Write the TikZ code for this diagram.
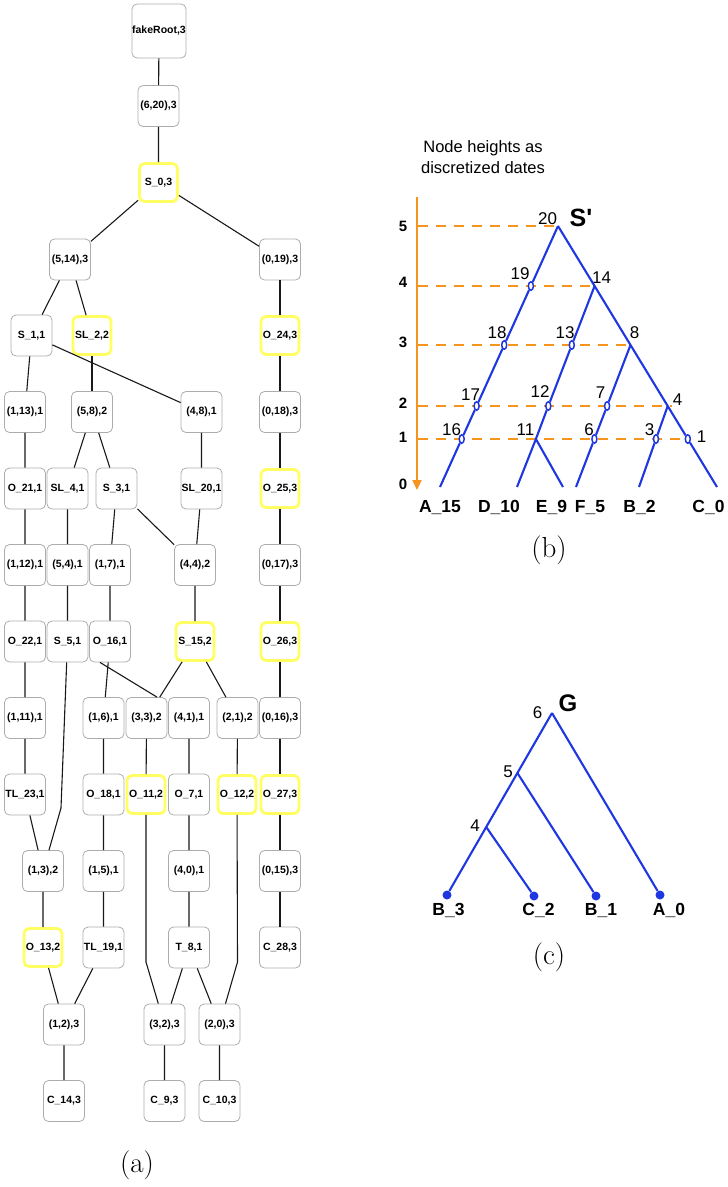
\documentclass[tikz,border=0pt]{standalone}
\usepackage{fontspec}
\usetikzlibrary{shapes.geometric, arrows.meta, backgrounds}
\newfontfamily\treefont{Liberation Sans}
\definecolor{boxgray}{RGB}{172,172,172}
\definecolor{markyellow}{RGB}{255,255,100}
\definecolor{treeblue}{RGB}{30,55,225}
\definecolor{dateorange}{RGB}{247,148,30}
\tikzstyle{state} = [rectangle, draw=boxgray, line width=0.8pt, rounded corners=5pt, minimum size=41pt, inner sep=0pt, font=\treefont\bfseries\fontsize{10.5}{12}\selectfont]
\tikzstyle{marked} = [state, draw=markyellow, line width=2.8pt, minimum size=38pt]
\tikzstyle{link} = [line width=1.1pt, draw=black!90]
\tikzstyle{branch} = [line width=2.1pt, draw=treeblue]
\tikzstyle{hole} = [ellipse, draw=treeblue, fill=white, line width=1.5pt, minimum width=5pt, minimum height=8.5pt, inner sep=0pt]
\tikzstyle{leafdot} = [circle, fill=treeblue, minimum size=9pt, inner sep=0pt]
\tikzstyle{dateline} = [draw=dateorange, line width=1.9pt, dash pattern=on 10pt off 8pt]
\tikzstyle{axis} = [draw=dateorange, line width=2.2pt, -{Triangle[length=10pt, width=9pt]}]
\tikzstyle{num} = [inner sep=0pt, font=\treefont\fontsize{17}{20}\selectfont]
\tikzstyle{grade} = [inner sep=0pt, font=\treefont\bfseries\fontsize{15}{18}\selectfont]
\tikzstyle{leaf} = [inner sep=0pt, text depth=0pt, font=\treefont\bfseries\fontsize{17.5}{20}\selectfont]
\tikzstyle{treename} = [inner sep=0pt, font=\treefont\bfseries\fontsize{25}{30}\selectfont]
\tikzstyle{note} = [inner sep=0pt, align=center, font=\treefont\fontsize{16.5}{21.5}\selectfont]
\tikzstyle{panel} = [inner sep=0pt, font=\fontsize{29}{34}\selectfont]

\begin{document}
\begin{tikzpicture}[x=1pt, y=-1pt]
			\useasboundingbox (0,0) rectangle (728,1187);

			% Nodes (a)
			\node (root) [state, minimum size=54pt] at (159,31) {fakeRoot,3};
			\node (p620) [state] at (158.5,106) {(6,20),3};
			\node (s0) [marked] at (158.5,182.5) {S\_0,3};
			\node (p514) [state] at (70,259.5) {(5,14),3};
			\node (p019) [state] at (280,259.5) {(0,19),3};
			\node (s1) [state] at (31.5,335.5) {S\_1,1};
			\node (sl2) [marked] at (92,335.5) {SL\_2,2};
			\node (o24) [marked] at (280,335.5) {O\_24,3};
			\node (p113) [state] at (25,412) {(1,13),1};
			\node (p58) [state] at (92,412) {(5,8),2};
			\node (p48) [state] at (201.5,412) {(4,8),1};
			\node (p018) [state] at (280,412) {(0,18),3};
			\node (o21) [state] at (25,488.5) {O\_21,1};
			\node (sl4) [state] at (67.5,488.5) {SL\_4,1};
			\node (s3) [state] at (116.5,488.5) {S\_3,1};
			\node (sl20) [state] at (201.5,488.5) {SL\_20,1};
			\node (o25) [marked] at (280,488.5) {O\_25,3};
			\node (p112) [state] at (25,565) {(1,12),1};
			\node (p54) [state] at (67.5,565) {(5,4),1};
			\node (p17) [state] at (110,565) {(1,7),1};
			\node (p44) [state] at (195,565) {(4,4),2};
			\node (p017) [state] at (280,565) {(0,17),3};
			\node (o22) [state] at (25,641.5) {O\_22,1};
			\node (s5) [state] at (67.5,641.5) {S\_5,1};
			\node (o16) [state] at (110,641.5) {O\_16,1};
			\node (s15) [marked] at (195,641.5) {S\_15,2};
			\node (o26) [marked] at (280,641.5) {O\_26,3};
			\node (p111) [state] at (25,718) {(1,11),1};
			\node (p16) [state] at (103.5,718) {(1,6),1};
			\node (p33) [state] at (146.5,718) {(3,3),2};
			\node (p41) [state] at (189,718) {(4,1),1};
			\node (p21) [state] at (237.5,718) {(2,1),2};
			\node (p016) [state] at (280,718) {(0,16),3};
			\node (tl23) [state] at (25,794.5) {TL\_23,1};
			\node (o18) [state] at (103.5,794.5) {O\_18,1};
			\node (o11) [marked] at (146,794.5) {O\_11,2};
			\node (o7) [state] at (189,794.5) {O\_7,1};
			\node (o12) [marked] at (237,794.5) {O\_12,2};
			\node (o27) [marked] at (280,794.5) {O\_27,3};
			\node (p13) [state] at (43,871) {(1,3),2};
			\node (p15) [state] at (103.5,871) {(1,5),1};
			\node (p40) [state] at (189,871) {(4,0),1};
			\node (p015) [state] at (280,871) {(0,15),3};
			\node (o13) [marked] at (43,947.5) {O\_13,2};
			\node (tl19) [state] at (103.5,947.5) {TL\_19,1};
			\node (t8) [state] at (189,947.5) {T\_8,1};
			\node (c28) [state] at (280,947.5) {C\_28,3};
			\node (p12) [state] at (64,1024.5) {(1,2),3};
			\node (p32) [state] at (164.5,1024.5) {(3,2),3};
			\node (p20) [state] at (219.5,1024.5) {(2,0),3};
			\node (c14) [state] at (64,1101) {C\_14,3};
			\node (c9) [state] at (164.5,1101) {C\_9,3};
			\node (c10) [state] at (219.5,1101) {C\_10,3};
			\coordinate (bendA) at (61,808);
			\coordinate (bendB) at (146,962);
			\coordinate (bendC) at (237.5,962);
			\node (taga) [panel] at (137,1165) {(a)};

			% Edges (a)
			\draw [link] (root) -- (p620) -- (s0);
			\draw [link] (s0) -- (p514);
			\draw [link] (s0) -- (p019);
			\draw [link] (p514) -- (s1);
			\draw [link] (p514) -- (sl2);
			\draw [link] (p019) -- (o24) -- (p018) -- (o25) -- (p017) -- (o26) -- (p016) -- (o27) -- (p015) -- (c28);
			\draw [link] (s1) -- (p113) -- (o21) -- (p112) -- (o22) -- (p111) -- (tl23) -- (p13) -- (o13) -- (p12) -- (c14);
			\draw [link] (s1) -- (p48) -- (sl20) -- (p44) -- (s15);
			\draw [link] (sl2) -- (p58);
			\draw [link] (p58) -- (sl4) -- (p54) -- (s5);
			\draw [link] (p58) -- (s3) -- (p17) -- (o16) -- (p16) -- (o18) -- (p15) -- (tl19) -- (p12);
			\draw [link] (s3) -- (p44);
			\draw [link] (s5) -- (bendA) -- (p13);
			\draw [link] ([xshift=-10pt]o16.south) -- ([xshift=10.5pt]p33.north);
			\draw [link] (s15) -- (p33) -- (o11) -- (bendB) -- (p32) -- (c9);
			\draw [link] (s15) -- (p21) -- (o12) -- (bendC) -- (p20) -- (c10);
			\draw [link] (p41) -- (o7) -- (p40) -- (t8) -- (p32);
			\draw [link] (t8) -- (p20);

			% Nodes (b)
			\node (caption) [note] at (483,157) {Node heights as\\discretized dates};
			\coordinate (axtop) at (417,197);
			\coordinate (axend) at (417,490);
			\node (lv5) [grade] at (403,226) {5};
			\node (lv4) [grade] at (403,282) {4};
			\node (lv3) [grade] at (403,342) {3};
			\node (lv2) [grade] at (403,403.5) {2};
			\node (lv1) [grade] at (403,437.5) {1};
			\node (lv0) [grade] at (403,484) {0};
			\coordinate (d5) at (418,226);
			\coordinate (d4) at (418,286);
			\coordinate (d3) at (418,345);
			\coordinate (d2) at (418,406);
			\coordinate (d1) at (418,439);
			\coordinate (e2) at (672,406);
			\coordinate (b20) at (558,226);
			\coordinate (b14) at (594.6,286);
			\coordinate (b8) at (630.5,345);
			\coordinate (b4) at (667.7,406);
			\coordinate (b11) at (535.9,439);
			\node (b19) [hole] at (530.9,286) {};
			\node (b18) [hole] at (504.2,345) {};
			\node (b17) [hole] at (476.6,406) {};
			\node (b16) [hole] at (461.7,439) {};
			\node (b13) [hole] at (571.8,345) {};
			\node (b12) [hole] at (548.3,406) {};
			\node (b7) [hole] at (607.1,406) {};
			\node (b6) [hole] at (594.4,439) {};
			\node (b3) [hole] at (656,439) {};
			\node (b1) [hole] at (687.8,439) {};
			\coordinate (la15) at (440,487);
			\coordinate (ld10) at (517,487);
			\coordinate (le9) at (563,487);
			\coordinate (lf5) at (576,487);
			\coordinate (lb2) at (639,487);
			\coordinate (lc0) at (717,487);
			\node (sprime) [treename] at (581,218) {S\textquotesingle};
			\node (t20) [num] at (547.5,218.5) {20};
			\node (t19) [num] at (520,273.5) {19};
			\node (t14) [num] at (601.5,278) {14};
			\node (t18) [num] at (497,332.5) {18};
			\node (t13) [num] at (565,332.5) {13};
			\node (t8) [num] at (634.5,332.5) {8};
			\node (t17) [num] at (470.5,395) {17};
			\node (t12) [num] at (540,392) {12};
			\node (t7) [num] at (600.5,392.5) {7};
			\node (t4) [num] at (677.5,400) {4};
			\node (t16) [num] at (451.5,430) {16};
			\node (t11) [num] at (525.5,430) {11};
			\node (t6) [num] at (589,430) {6};
			\node (t3) [num] at (649.5,430) {3};
			\node (t1) [num] at (701.5,437) {1};
			\node (na15) [leaf] at (440,506) {A\_15};
			\node (nd10) [leaf] at (499,506) {D\_10};
			\node (ne9) [leaf] at (551.5,506) {E\_9};
			\node (nf5) [leaf] at (590,506) {F\_5};
			\node (nb2) [leaf] at (639.5,506) {B\_2};
			\node (nc0) [leaf] at (708.5,506) {C\_0};
			\node (tagb) [panel] at (549,550) {(b)};

			% Edges (b)
			\draw [axis] (axtop) -- (axend);
			\begin{scope}[on background layer]
				\draw [dateline] (d5) -- (b20);
				\draw [dateline] (d4) -- (b14);
				\draw [dateline] (d3) -- (b8);
				\draw [dateline] (d2) -- (e2);
				\draw [dateline] (d1) -- (b1);
			\end{scope}
			\draw [branch] (b20) -- (b19) -- (b18) -- (b17) -- (b16) -- (la15);
			\draw [branch] (b20) -- (b14) -- (b8) -- (b4) -- (b1) -- (lc0);
			\draw [branch] (b14) -- (b13) -- (b12) -- (b11) -- (ld10);
			\draw [branch] (b11) -- (le9);
			\draw [branch] (b8) -- (b7) -- (b6) -- (lf5);
			\draw [branch] (b4) -- (b3) -- (lb2);

			% Nodes (c)
			\coordinate (r6) at (552,713);
			\coordinate (r5) at (517.4,773);
			\coordinate (r4) at (486.2,827);
			\node (db3) [leafdot] at (447,895) {};
			\node (dc2) [leafdot] at (534,896) {};
			\node (db1) [leafdot] at (596,896) {};
			\node (da0) [leafdot] at (660,895) {};
			\node (gname) [treename, font=\treefont\bfseries\fontsize{24}{28}\selectfont] at (568,703) {G};
			\node (u6) [num] at (537.5,712.5) {6};
			\node (u5) [num] at (508,772) {5};
			\node (u4) [num] at (475,825.5) {4};
			\node (mb3) [leaf] at (448.5,909.5) {B\_3};
			\node (mc2) [leaf] at (538.5,909.5) {C\_2};
			\node (mb1) [leaf] at (601,909.5) {B\_1};
			\node (ma0) [leaf] at (669,909) {A\_0};
			\node (tagc) [panel] at (549,957) {(c)};

			% Edges (c)
			\draw [branch] (r6) -- (db3);
			\draw [branch] (r6) -- (da0);
			\draw [branch] (r5) -- (db1);
			\draw [branch] (r4) -- (dc2);
		\end{tikzpicture}
\end{document}
